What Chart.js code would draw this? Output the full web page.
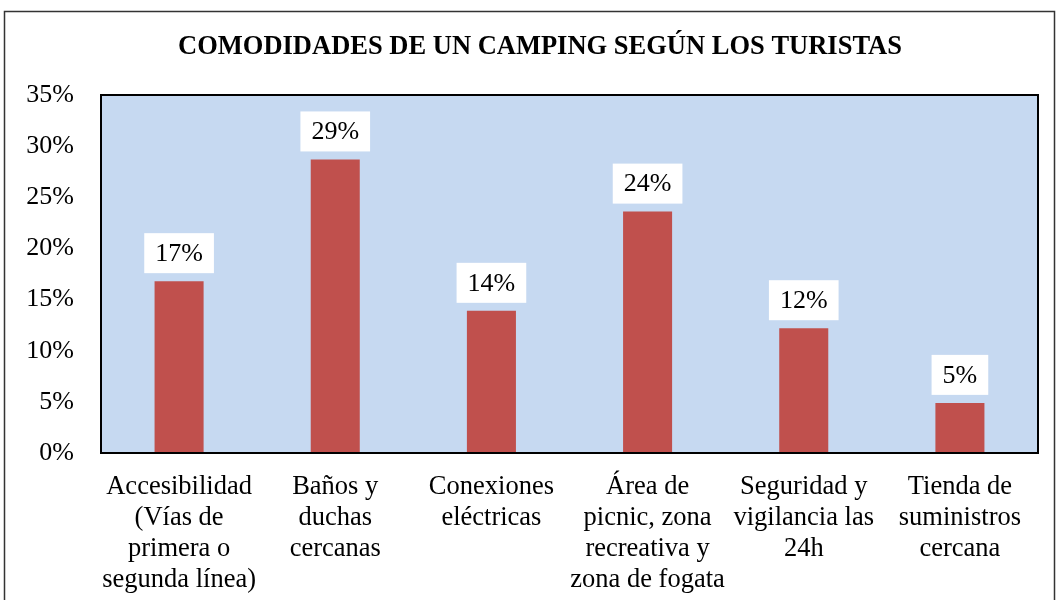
<!DOCTYPE html>
<html>
<head>
<meta charset="utf-8">
<script src="https://cdn.jsdelivr.net/npm/chart.js@4"></script>
<style>
  body { margin: 0; background: #fff; }
  #wrap { width: 1059px; height: 600px; }
</style>
</head>
<body>
<div id="wrap"><canvas id="comodidades" width="1059" height="600"></canvas></div>
<script>
const titulo = 'COMODIDADES DE UN CAMPING SEGÚN LOS TURISTAS'
const categorias = [
  ['Accesibilidad', '(Vías de', 'primera o', 'segunda línea)'],
  ['Baños y', 'duchas', 'cercanas'],
  ['Conexiones', 'eléctricas'],
  ['Área de', 'picnic, zona', 'recreativa y', 'zona de fogata'],
  ['Seguridad y', 'vigilancia las', '24h'],
  ['Tienda de', 'suministros', 'cercana']
]
const porcentajes = [16.8, 28.7, 13.9, 23.6, 12.2, 4.9]
const etiquetas = ['17%', '29%', '14%', '24%', '12%', '5%']
const yMax = 35
const yPaso = 5

const serif = "'Liberation Serif', 'Times New Roman', serif"

// fondo del area de trazado, marco exterior, titulo y etiquetas con caja blanca
const adornos = {
  id: 'adornos',
  beforeDraw(chart) {
    const ctx = chart.ctx
    const a = chart.chartArea
    ctx.save()
    ctx.fillStyle = '#fff'
    ctx.fillRect(0, 0, chart.width, chart.height)
    ctx.strokeStyle = '#333'
    ctx.lineWidth = 1.5
    ctx.strokeRect(4.5, 11.5, 1050, 620)
    ctx.fillStyle = '#C6D9F1'
    ctx.fillRect(a.left, a.top, a.right - a.left, a.bottom - a.top)
    ctx.font = 'bold 26.5px ' + serif
    ctx.fillStyle = '#000'
    ctx.textAlign = 'center'
    ctx.textBaseline = 'middle'
    ctx.fillText(titulo, 540, 47)
    ctx.restore()
  },
  afterDatasetsDraw(chart) {
    const ctx = chart.ctx
    const a = chart.chartArea
    ctx.save()
    ctx.strokeStyle = '#000'
    ctx.lineWidth = 2
    ctx.strokeRect(a.left, a.top, a.right - a.left, a.bottom - a.top)
    ctx.font = '26px ' + serif
    ctx.textAlign = 'center'
    ctx.textBaseline = 'middle'
    chart.getDatasetMeta(0).data.forEach((bar, i) => {
      const txt = etiquetas[i]
      const w = ctx.measureText(txt).width + 22
      const h = 40
      const bottom = bar.y - 8
      ctx.fillStyle = '#fff'
      ctx.fillRect(bar.x - w / 2, bottom - h, w, h)
      ctx.fillStyle = '#000'
      ctx.fillText(txt, bar.x, bottom - h / 2 + 1)
    })
    ctx.restore()
  }
}

const config = {
  type: 'bar',
  data: {
    labels: categorias,
    datasets: [{
      data: porcentajes,
      backgroundColor: '#C0504D',
      borderWidth: 0,
      categoryPercentage: 1,
      barPercentage: 0.314
    }]
  },
  options: {
    responsive: false,
    animation: false,
    layout: { padding: { left: 0, right: 21, top: 95, bottom: 0 } },
    plugins: {
      legend: { display: false },
      tooltip: { enabled: false },
      title: { display: false }
    },
    scales: {
      x: {
        grid: { display: false, drawTicks: false },
        border: { display: false },
        ticks: {
          color: '#000',
          font: { family: serif, size: 26.5, lineHeight: 1.17 },
          padding: 19,
          maxRotation: 0,
          autoSkip: false
        },
        afterFit(scale) { scale.height = 147 }
      },
      y: {
        min: 0,
        max: yMax,
        grid: { display: false, drawTicks: false },
        border: { display: false },
        ticks: {
          stepSize: yPaso,
          color: '#000',
          font: { family: serif, size: 26 },
          padding: 27,
          callback: v => v + '%'
        },
        afterFit(scale) { scale.width = 101 }
      }
    }
  },
  plugins: [adornos]
}

new Chart(document.getElementById('comodidades'), config)
</script>
</body>
</html>
